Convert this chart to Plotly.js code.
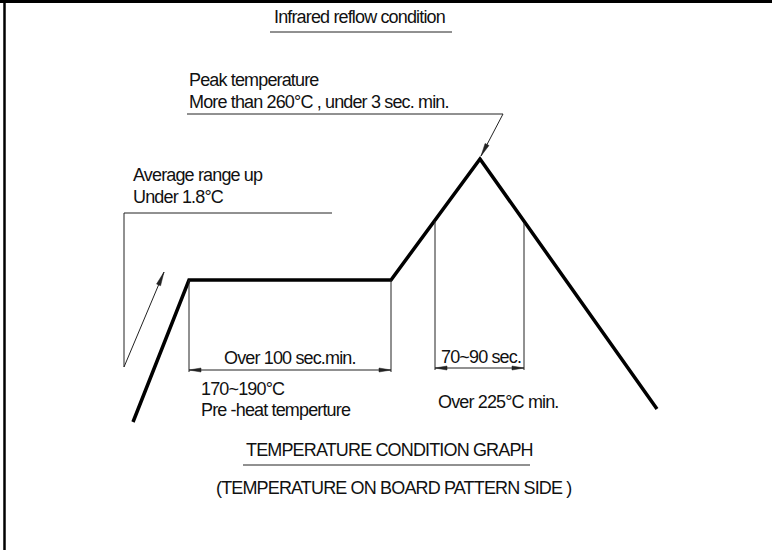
<!DOCTYPE html>
<html>
<head>
<meta charset="utf-8">
<script src="https://cdn.plot.ly/plotly-3.0.1.min.js"></script>
<style>
  html, body { margin: 0; padding: 0; background: #fff; }
  #chart { width: 772px; height: 550px; }
  .annotation-text { letter-spacing: -0.85px; }
</style>
</head>
<body>
<div id="chart"></div>
<script>
// Reflow profile (drawing units: horizontal = time axis, vertical = temperature axis, top = hot)
const profileX = [133, 189, 391, 480, 657];
const profileY = [422, 280, 280, 159, 409];

// Pre-heat (soak) boundaries and dimension level
const soakX = [189, 391];
const soakTopY = 280;
const soakDimY = 370;

// Time above 225°C boundaries
const above225X = [435, 524];
const above225TopY = [221, 223];
const above225DimY = 368;

// Leader lines
const avgLeaderX = [332, 124, 124];
const avgLeaderY = [213, 213, 367];
const avgArrowFrom = [124, 367];
const avgArrowTo = [164, 272];
const peakLeaderX = [187, 503];
const peakLeaderY = [114, 114];
const peakArrowTo = [481, 156];

// Heading underlines
const titleUnderlineX = [270, 452];
const titleUnderlineY = [32, 32];
const graphUnderlineX = [243, 530];
const graphUnderlineY = [465, 465];

// Texts
const labelText = [
  'Infrared reflow condition',
  'Peak temperature',
  'More than 260°C , under 3 sec. min.',
  'Average range up',
  'Under 1.8°C',
  'Over 100 sec.min.',
  '70~90 sec.',
  '170~190°C',
  'Pre -heat temperture',
  'Over 225°C min.',
  'TEMPERATURE CONDITION GRAPH',
  '(TEMPERATURE ON BOARD PATTERN SIDE )'
];
const labelX = [359, 187, 187, 131, 131, 290, 481, 199, 199, 436, 389, 393];
const labelY = [17, 80, 102, 175, 197, 358, 357, 389, 410, 402, 450, 488];
const labelAnchor = ['center', 'left', 'left', 'left', 'left', 'center', 'center', 'left', 'left', 'left', 'center', 'center'];

const FONT = {family: 'Liberation Sans, Arial, sans-serif', size: 18, color: '#111'};
const thin = {color: '#222', width: 1};

const traces = [];
function line(xs, ys, style) {
  traces.push({x: xs, y: ys, mode: 'lines', line: style, hoverinfo: 'skip', showlegend: false, type: 'scatter'});
}
// filled arrowhead polygon with tip at `tip`, pointing away from `from`
function head(tip, from, len, half) {
  const dx = tip[0] - from[0], dy = tip[1] - from[1];
  const d = Math.hypot(dx, dy);
  const ux = dx / d, uy = dy / d;
  const bx = tip[0] - ux * len, by = tip[1] - uy * len;
  const px = -uy * half, py = ux * half;
  traces.push({
    x: [tip[0], bx + px, bx - px, tip[0]], y: [tip[1], by + py, by - py, tip[1]],
    mode: 'lines', fill: 'toself', fillcolor: '#222', line: {color: '#222', width: 0.5},
    hoverinfo: 'skip', showlegend: false, type: 'scatter'
  });
}

// profile
line(profileX, profileY, {color: '#000', width: 3.5});
// soak verticals + dimension
soakX.forEach(x => line([x, x], [soakTopY, soakDimY + 2], thin));
line(soakX, [soakDimY, soakDimY], thin);
head([soakX[0], soakDimY], [soakX[1], soakDimY], 12, 2);
head([soakX[1], soakDimY], [soakX[0], soakDimY], 12, 2);
// 225 verticals + dimension
above225X.forEach((x, i) => line([x, x], [above225TopY[i], above225DimY + 2], thin));
line(above225X, [above225DimY, above225DimY], thin);
head([above225X[0], above225DimY], [above225X[1], above225DimY], 12, 2);
head([above225X[1], above225DimY], [above225X[0], above225DimY], 12, 2);
// leaders
line(avgLeaderX, avgLeaderY, thin);
line([avgArrowFrom[0], avgArrowTo[0]], [avgArrowFrom[1], avgArrowTo[1]], thin);
head(avgArrowTo, avgArrowFrom, 14, 2.2);
line(peakLeaderX, peakLeaderY, thin);
line([peakLeaderX[1], peakArrowTo[0]], [peakLeaderY[1], peakArrowTo[1]], thin);
head(peakArrowTo, [peakLeaderX[1], peakLeaderY[1]], 13, 2.2);
// underlines
line(titleUnderlineX, titleUnderlineY, thin);
line(graphUnderlineX, graphUnderlineY, thin);

const annotations = labelText.map((t, i) => ({
  x: labelX[i], y: labelY[i], xref: 'x', yref: 'y', text: t, showarrow: false,
  xanchor: labelAnchor[i], yanchor: 'middle', font: FONT
}));

const layout = {
  width: 772, height: 550,
  margin: {l: 0, r: 0, t: 0, b: 0},
  paper_bgcolor: '#fff', plot_bgcolor: '#fff',
  xaxis: {range: [0, 772], visible: false, fixedrange: true},
  yaxis: {range: [550, 0], visible: false, fixedrange: true},
  showlegend: false,
  annotations: annotations,
  shapes: [
    {type: 'line', xref: 'x', yref: 'y', x0: 4.5, x1: 4.5, y0: 0, y1: 550, line: {color: '#000', width: 2.5}},
    {type: 'line', xref: 'x', yref: 'y', x0: 0, x1: 772, y0: 1.5, y1: 1.5, line: {color: '#000', width: 3}}
  ]
};

Plotly.newPlot('chart', traces, layout, {displayModeBar: false, staticPlot: true});
</script>
</body>
</html>
